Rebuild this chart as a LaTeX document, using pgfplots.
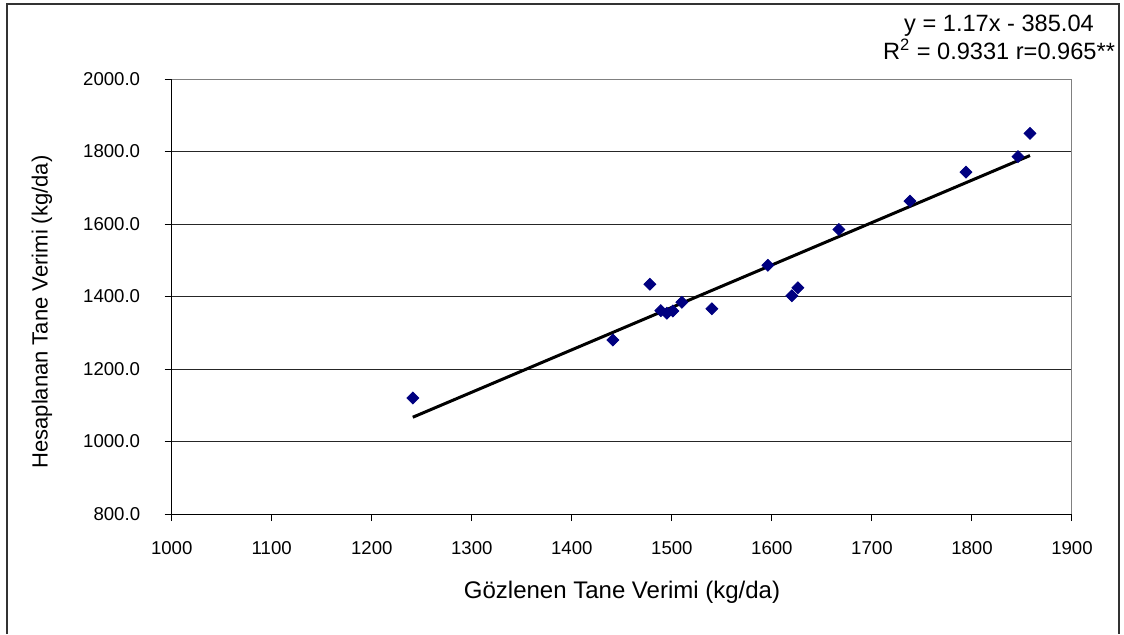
\documentclass[border=0pt]{standalone}
\usepackage{fontspec}
\setmainfont{Liberation Sans}
\usepackage{pgfplots}
\pgfplotsset{compat=1.18}

\definecolor{ptnavy}{RGB}{0,0,128}

\begin{document}
\begin{tikzpicture}[x=1pt,y=1pt]
\fontsize{9.3}{11}\selectfont
% outer chart frame (open at the bottom)
\draw[line width=1pt, black!80] (3.5,0) -- (3.5,315) -- (559.5,315) -- (559.5,0);

\begin{axis}[
  at={(85.85pt,60pt)}, anchor=south west,
  scale only axis, width=450.15pt, height=217.5pt,
  xmin=1000, xmax=1900, ymin=800, ymax=2000,
  xtick={1000,1100,...,1900},
  ytick={800,1000,...,2000},
  axis lines*=left,
  axis line style={black, line width=0.5pt},
  ymajorgrids,
  grid style={black!85, line width=0.5pt},
  tick align=outside,
  major tick length=3.5pt,
  tick style={black, line width=0.5pt},
  /pgf/number format/assume math mode=true,
  tick label style={font=\fontsize{9.3}{11}\selectfont},
  xticklabel style={/pgf/number format/1000 sep={}, yshift=-7pt},
  yticklabel style={/pgf/number format/.cd, fixed, fixed zerofill, precision=1, 1000 sep={}, /tikz/.cd, xshift=-9pt},
  clip=false,
]
% plot area border on top and right
\draw[black!50, line width=0.5pt] (axis cs:1000,2000) -- (axis cs:1900,2000) -- (axis cs:1900,800);

% linear trend: y = 1.17x - 385.04
\addplot[black, line width=1.5pt, no marks] coordinates {(1241,1066.93) (1858,1788.82)};

% observed vs. calculated grain yield
\addplot[only marks, mark=square*, mark size=2.1pt,
  mark options={rotate=45, fill=ptnavy, draw=ptnavy}] coordinates {
  (1241,1120) (1441,1280) (1478,1434) (1489,1361) (1495,1354)
  (1501,1360) (1510,1384) (1540,1366) (1596,1486) (1620,1402)
  (1626,1424) (1667,1585) (1738,1663) (1794,1743) (1846,1786)
  (1858,1850)
};
\end{axis}

% axis titles
\node[font=\fontsize{12}{14}\selectfont] at (311,21) {Gözlenen Tane Verimi (kg/da)};
\node[rotate=90, font=\fontsize{11}{13}\selectfont] at (21,161) {Hesaplanan Tane Verimi (kg/da)};

% regression equation
\node[font=\fontsize{11.8}{14}\selectfont, align=center, inner sep=0pt] at (499.5,298.5) {y = 1.17x - 385.04\\ R\textsuperscript{2} = 0.9331 r=0.965**};

\pgfresetboundingbox
\path[use as bounding box] (0,0) rectangle (562,317);
\end{tikzpicture}
\end{document}
